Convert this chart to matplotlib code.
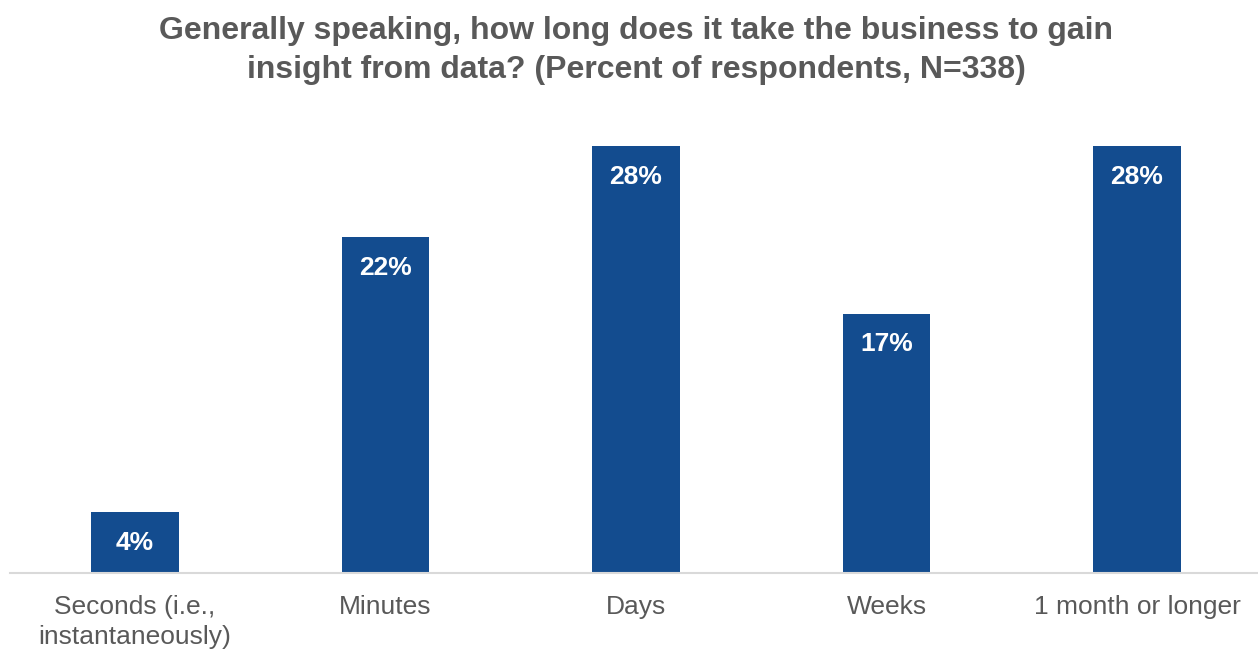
import matplotlib
matplotlib.use("Agg")
import matplotlib.pyplot as plt

categories = ["Seconds (i.e.,\ninstantaneously)", "Minutes", "Days", "Weeks", "1 month or longer"]
values = [4, 22, 28, 17, 28]
value_labels = ["4%", "22%", "28%", "17%", "28%"]
title = "Generally speaking, how long does it take the business to gain\ninsight from data? (Percent of respondents, N=338)"

plt.rcParams['font.family'] = ['Liberation Sans', 'DejaVu Sans']
W, H = 1258, 650
fig = plt.figure(figsize=(W/100, H/100), dpi=100)
ax = fig.add_axes([9.75/W, 77/H, 1252.5/W, 427/H])

x = list(range(len(categories)))
bars = ax.bar(x, values, width=0.35, color="#134C8F", zorder=2)
ax.set_xlim(-0.5, len(categories) - 0.5)
ax.set_ylim(0, 28)

for xi, v, lab in zip(x, values, value_labels):
    ax.annotate(lab, (xi, v), xytext=(0, -22), textcoords="offset points",
                ha="center", va="center", color="white", fontsize=19, fontweight="bold")

ax.set_xticks(x)
ax.set_xticklabels(categories, fontsize=19, color="#595959", linespacing=1.32)
ax.tick_params(axis="x", length=0, pad=16)
ax.set_yticks([])
for s in ["top", "right", "left"]:
    ax.spines[s].set_visible(False)
ax.spines["bottom"].set_color("#D9D9D9")
ax.spines["bottom"].set_linewidth(1.5)
ax.spines["bottom"].set_zorder(3)

fig.text(636/W, 1 - 50.5/H, title, ha="center", va="center", fontsize=23,
         fontweight="bold", color="#595959", linespacing=1.38)

fig.savefig("out.png", dpi=100)
